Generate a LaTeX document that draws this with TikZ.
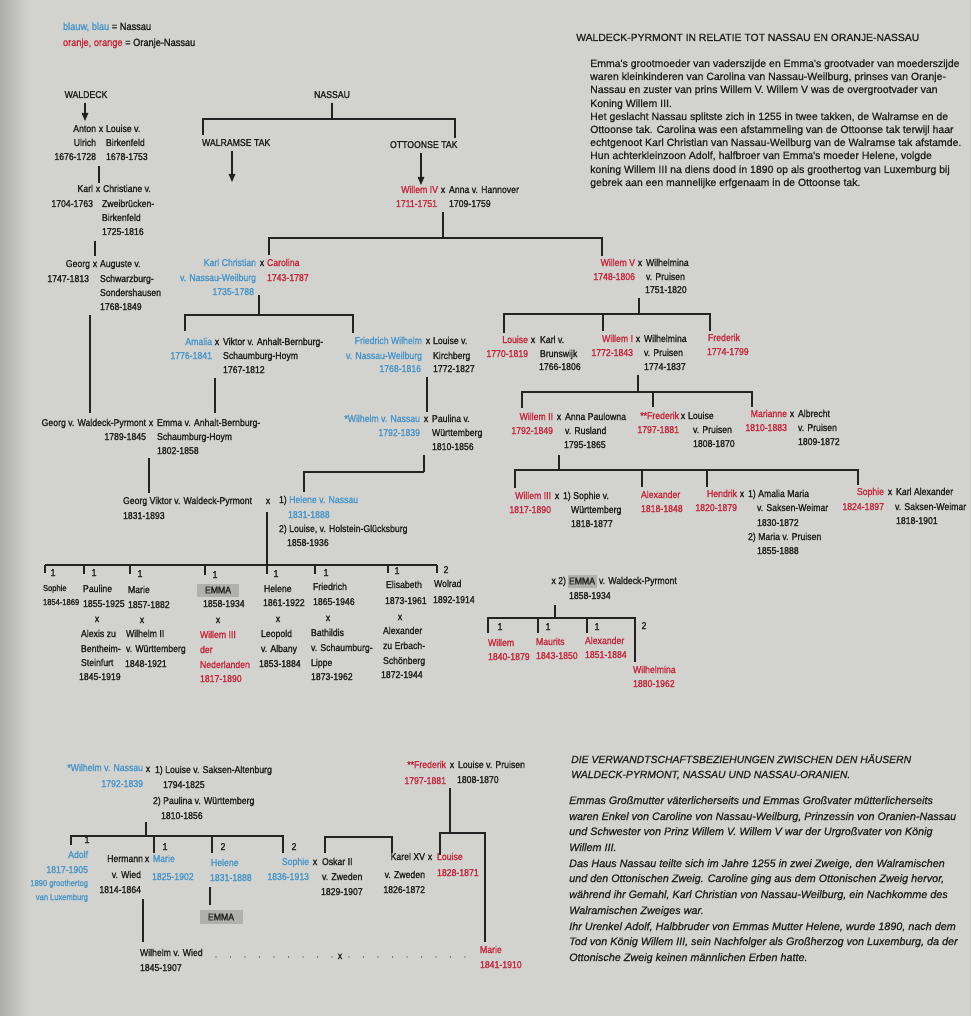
\documentclass[tikz,border=0pt]{standalone}
\usepackage{fontspec}
\setmainfont{Liberation Sans}
\newfontfamily\chartfont[FakeBold=1.6,FakeStretch=0.88]{Liberation Sans}
\newfontfamily\parafont[FakeBold=1.0]{Liberation Sans}
\newfontfamily\paraitfont[FakeBold=1.0]{Liberation Sans Italic}
\usetikzlibrary{arrows.meta}
\definecolor{nblue}{RGB}{75,150,200}
\definecolor{nred}{RGB}{198,42,62}
\definecolor{ink}{RGB}{35,35,35}
\definecolor{paper}{RGB}{210,211,207}
\definecolor{paperdark}{RGB}{172,172,168}
\definecolor{emmagray}{RGB}{176,176,174}
\newcommand\bl[1]{\textcolor{nblue}{#1}}
\newcommand\rd[1]{\textcolor{nred}{#1}}
\tikzset{
  lbl/.style={inner sep=0pt,outer sep=0pt,text=ink,font=\chartfont\fontsize{9.9}{11}\selectfont},
  sml/.style={lbl,font=\chartfont\fontsize{8.6}{10}\selectfont},
  leg/.style={lbl,font=\chartfont\fontsize{10.5}{12}\selectfont},
  ln/.style={draw=ink,line width=1.1pt},
  arr/.style={ln,-{Triangle[width=6.5pt,length=8pt]}},
  emmabox/.style={lbl,fill=emmagray},
  para/.style={inner sep=0pt,anchor=base west,text=ink,font=\parafont\fontsize{10.5}{12}\selectfont},
  parai/.style={para,font=\paraitfont\fontsize{10.8}{12}\selectfont},
  ttl/.style={para,font=\parafont\fontsize{10.4}{12}\selectfont},
  ttli/.style={para,font=\paraitfont\fontsize{10.4}{12}\selectfont},
}
\newcommand\nW[4]{\node[lbl,anchor=base west] (#1) at (#2,#3+3) {#4};}
\newcommand\nE[4]{\node[lbl,anchor=base east] (#1) at (#2,#3+3) {#4};}
\newcommand\nC[4]{\node[lbl,anchor=base] (#1) at (#2,#3+3) {#4};}
\newcommand\vl[4]{\coordinate (#1a) at (#2,#3);\coordinate (#1b) at (#2,#4);\draw[ln] (#1a)--(#1b);}
\newcommand\brk[6]{\coordinate (#1a) at (#2,#5);\coordinate (#1b) at (#2,#4);\coordinate (#1c) at (#3,#4);\coordinate (#1d) at (#3,#6);\draw[ln] (#1a)--(#1b)--(#1c)--(#1d);}
\begin{document}
\begin{tikzpicture}[x=1pt,y=-1pt]
\fill[paper] (0,0) rectangle (971,1016);
\shade[left color=paperdark,right color=paper] (0,0) rectangle (28,1016);
\useasboundingbox (0,0) rectangle (971,1016);

% legend
\node[leg,anchor=base west] (leg1) at (63,30) {\bl{blauw, blau} = Nassau};
\node[leg,anchor=base west] (leg2) at (63,46) {\rd{oranje, orange} = Oranje-Nassau};

% top right text
\node[ttl] (t0) at (576,41) {WALDECK-PYRMONT IN RELATIE TOT NASSAU EN ORANJE-NASSAU};
\node[para] (p1) at (590,67) {Emma's grootmoeder van vaderszijde en Emma's grootvader van moederszijde};
\node[para] (p2) at (590,80) {waren kleinkinderen van Carolina van Nassau-Weilburg, prinses van Oranje-};
\node[para] (p3) at (590,93) {Nassau en zuster van prins Willem V. Willem V was de overgrootvader van};
\node[para] (p4) at (590,107) {Koning Willem III.};
\node[para] (p5) at (590,120) {Het geslacht Nassau splitste zich in 1255 in twee takken, de Walramse en de};
\node[para] (p6) at (590,133) {Ottoonse tak. Carolina was een afstammeling van de Ottoonse tak terwijl haar};
\node[para] (p7) at (590,146) {echtgenoot Karl Christian van Nassau-Weilburg van de Walramse tak afstamde.};
\node[para] (p8) at (590,159) {Hun achterkleinzoon Adolf, halfbroer van Emma's moeder Helene, volgde};
\node[para] (p9) at (590,173) {koning Willem III na diens dood in 1890 op als groothertog van Luxemburg bij};
\node[para] (p10) at (590,186) {gebrek aan een mannelijke erfgenaam in de Ottoonse tak.};

% bottom right text
\node[ttli] (q0) at (571,763) {DIE VERWANDTSCHAFTSBEZIEHUNGEN ZWISCHEN DEN HÄUSERN};
\node[ttli] (q00) at (571,778) {WALDECK-PYRMONT, NASSAU UND NASSAU-ORANIEN.};
\node[parai] (q1) at (569,804) {Emmas Großmutter väterlicherseits und Emmas Großvater mütterlicherseits};
\node[parai] (q2) at (569,820) {waren Enkel von Caroline von Nassau-Weilburg, Prinzessin von Oranien-Nassau};
\node[parai] (q3) at (569,835) {und Schwester von Prinz Willem V. Willem V war der Urgroßvater von König};
\node[parai] (q4) at (569,851) {Willem III.};
\node[parai] (q5) at (569,867) {Das Haus Nassau teilte sich im Jahre 1255 in zwei Zweige, den Walramischen};
\node[parai] (q6) at (569,882) {und den Ottonischen Zweig. Caroline ging aus dem Ottonischen Zweig hervor,};
\node[parai] (q7) at (569,898) {während ihr Gemahl, Karl Christian von Nassau-Weilburg, ein Nachkomme des};
\node[parai] (q8) at (569,914) {Walramischen Zweiges war.};
\node[parai] (q9) at (569,930) {Ihr Urenkel Adolf, Halbbruder von Emmas Mutter Helene, wurde 1890, nach dem};
\node[parai] (q10) at (569,945) {Tod von König Willem III, sein Nachfolger als Großherzog von Luxemburg, da der};
\node[parai] (q11) at (569,961) {Ottonische Zweig keinen männlichen Erben hatte.};

% ---------- WALDECK column
\nC{waldeck}{86}{95}{WALDECK}
\nE{anton}{96}{129}{Anton} \nC{antonx}{101}{129}{x} \nW{louiseb}{106}{129}{Louise v.}
\nE{ulrich}{96}{143}{Ulrich} \nW{birka}{106}{143}{Birkenfeld}
\nE{antond}{96}{157}{1676-1728} \nW{louisebd}{106}{157}{1678-1753}
\nE{karl}{93}{189}{Karl} \nC{karlx}{98}{189}{x} \nW{christ}{103}{189}{Christiane v.}
\nE{karld}{93}{204}{1704-1763} \nW{zweib}{102}{204}{Zweibrücken-}
\nW{birkb}{102}{218}{Birkenfeld} \nW{christd}{102}{232}{1725-1816}
\nE{georg}{90}{264}{Georg} \nC{georgx}{95}{264}{x} \nW{aug}{100}{264}{Auguste v.}
\nE{georgd}{89}{279}{1747-1813} \nW{schw}{100}{279}{Schwarzburg-}
\nW{sond}{100}{293}{Sondershausen} \nW{augd}{100}{307}{1768-1849}
\nE{gwp}{146}{423}{Georg v. Waldeck-Pyrmont} \nC{gwpx}{151}{423}{x} \nW{emab}{157}{423}{Emma v. Anhalt-Bernburg-}
\nE{gwpd}{146}{437}{1789-1845} \nW{emab2}{157}{437}{Schaumburg-Hoym} \nW{emabd}{157}{451}{1802-1858}
\nW{gv}{123}{501}{Georg Viktor v. Waldeck-Pyrmont} \nC{gvx}{268}{501}{x}
\nW{hel1}{279}{500}{1) \bl{Helene v. Nassau}}
\nW{gvd}{123}{516}{1831-1893} \nW{hel1d}{288}{515}{\bl{1831-1888}}
\nW{lou2}{279}{529}{2) Louise, v. Holstein-Glücksburg} \nW{lou2d}{287}{543}{1858-1936}

% ---------- NASSAU
\nC{nassau}{332}{95}{NASSAU}
\nW{walr}{202}{143}{WALRAMSE TAK}
\nW{otto}{390}{145}{OTTOONSE TAK}
\nE{w4}{438}{190}{\rd{Willem IV}} \nC{w4x}{443}{190}{x} \nW{anna}{449}{190}{Anna v. Hannover}
\nE{w4d}{437}{204}{\rd{1711-1751}} \nW{annad}{449}{204}{1709-1759}
\nE{kc}{256}{263}{\bl{Karl Christian}} \nC{kcx}{262}{263}{x} \nW{carol}{267}{263}{\rd{Carolina}}
\nE{kc2}{256}{278}{\bl{v. Nassau-Weilburg}} \nW{carold}{267}{278}{\rd{1743-1787}}
\nE{kcd}{254}{292}{\bl{1735-1788}}
\nE{amalia}{212}{342}{\bl{Amalia}} \nC{amx}{217}{342}{x} \nW{viktor}{223}{342}{Viktor v. Anhalt-Bernburg-}
\nE{amd}{212}{356}{\bl{1776-1841}} \nW{vik2}{223}{356}{Schaumburg-Hoym} \nW{vikd}{223}{370}{1767-1812}
\nE{fw}{422}{341}{\bl{Friedrich Wilhelm}} \nC{fwx}{428}{341}{x} \nW{louk}{433}{341}{Louise v.}
\nE{fw2}{422}{356}{\bl{v. Nassau-Weilburg}} \nW{kirch}{433}{356}{Kirchberg}
\nE{fwd}{421}{369}{\bl{1768-1816}} \nW{loukd}{433}{369}{1772-1827}
\nE{wn}{420}{419}{\bl{*Wilhelm v. Nassau}} \nC{wnx}{426}{419}{x} \nW{paul}{432}{419}{Paulina v.}
\nE{wnd}{420}{433}{\bl{1792-1839}} \nW{wurt}{432}{433}{Württemberg} \nW{pauld}{432}{447}{1810-1856}

% ---------- ORANJE
\nE{w5}{635}{263}{\rd{Willem V}} \nC{w5x}{640}{263}{x} \nW{wilh}{646}{263}{Wilhelmina}
\nE{w5d}{635}{277}{\rd{1748-1806}} \nW{wilh2}{646}{277}{v. Pruisen} \nW{wilhd}{645}{290}{1751-1820}
\nE{lou}{528}{340}{\rd{Louise}} \nC{loux}{533}{340}{x} \nW{karlv}{540}{340}{Karl v.}
\nE{loud}{528}{354}{\rd{1770-1819}} \nW{brun}{540}{354}{Brunswijk} \nW{brund}{539}{367}{1766-1806}
\nE{w1}{633}{339}{\rd{Willem I}} \nC{w1x}{638}{339}{x} \nW{wilm}{644}{339}{Wilhelmina}
\nE{w1d}{633}{353}{\rd{1772-1843}} \nW{wilm2}{644}{353}{v. Pruisen} \nW{wilmd}{644}{367}{1774-1837}
\nW{fred}{708}{338}{\rd{Frederik}} \nW{fredd}{707}{352}{\rd{1774-1799}}
\nE{w2}{553}{417}{\rd{Willem II}} \nC{w2x}{559}{417}{x} \nW{annap}{565}{417}{Anna Paulowna}
\nE{w2d}{553}{431}{\rd{1792-1849}} \nW{rus}{565}{431}{v. Rusland} \nW{rusd}{564}{445}{1795-1865}
\nE{ff}{679}{416}{\rd{**Frederik}} \nC{ffx}{683}{416}{x} \nW{louf}{688}{416}{Louise}
\nE{ffd}{679}{430}{\rd{1797-1881}} \nW{louf2}{693}{430}{v. Pruisen} \nW{loufd}{693}{444}{1808-1870}
\nE{mar}{787}{414}{\rd{Marianne}} \nC{marx}{792}{414}{x} \nW{albr}{798}{414}{Albrecht}
\nE{mard}{787}{428}{\rd{1810-1883}} \nW{albr2}{798}{428}{v. Pruisen} \nW{albrd}{798}{442}{1809-1872}
\nE{w3}{551}{496}{\rd{Willem III}} \nC{w3x}{557}{496}{x} \nW{soph1}{563}{496}{1) Sophie v.}
\nE{w3d}{551}{510}{\rd{1817-1890}} \nW{wue}{571}{510}{Württemberg} \nW{wued}{571}{524}{1818-1877}
\nW{alex}{641}{495}{\rd{Alexander}} \nW{alexd}{641}{509}{\rd{1818-1848}}
\nE{hen}{737}{494}{\rd{Hendrik}} \nC{henx}{742}{494}{x} \nW{amm}{748}{494}{1) Amalia Maria}
\nE{hend}{737}{508}{\rd{1820-1879}} \nW{amm2}{757}{508}{v. Saksen-Weimar} \nW{ammd}{757}{523}{1830-1872}
\nW{maria}{748}{537}{2) Maria v. Pruisen} \nW{mariad}{757}{551}{1855-1888}
\nE{soph}{884}{492}{\rd{Sophie}} \nC{sophx}{890}{492}{x} \nW{ka}{896}{492}{Karl Alexander}
\nE{sophd}{884}{507}{\rd{1824-1897}} \nW{ka2}{895}{507}{v. Saksen-Weimar} \nW{kad}{896}{521}{1818-1901}
\nE{e2a}{566}{581}{x 2)}
\node[emmabox,minimum width=29pt,minimum height=13pt] (emmaB) at (582,581) {EMMA};
\nW{e2b}{599}{581}{v. Waldeck-Pyrmont} \nW{e2d}{569}{596}{1858-1934}
\nC{k1}{500}{627}{1} \nC{k2}{548}{627}{1} \nC{k3}{597}{627}{1} \nC{k4}{644}{626}{2}
\nW{wil}{488}{643}{\rd{Willem}} \nW{wild}{488}{657}{\rd{1840-1879}}
\nW{maur}{536}{642}{\rd{Maurits}} \nW{maurd}{536}{656}{\rd{1843-1850}}
\nW{alx}{585}{641}{\rd{Alexander}} \nW{alxd}{585}{655}{\rd{1851-1884}}
\nW{wilhm}{633}{670}{\rd{Wilhelmina}} \nW{wilhmd}{633}{684}{\rd{1880-1962}}

% ---------- children of Georg Viktor
\nC{c1}{53}{573}{1} \nC{c2}{94}{573}{1} \nC{c3}{140}{574}{1} \nC{c4}{215}{575}{1}
\nC{c5}{276}{574}{1} \nC{c6}{326}{573}{1} \nC{c7}{397}{571}{1} \nC{c8}{446}{570}{2}
\node[sml,anchor=base west] (sophie) at (43,591) {Sophie};
\node[sml,anchor=base west] (sophied) at (43,605) {1854-1869};
\nW{pauline}{83}{589}{Pauline} \nW{paulined}{83}{604}{1855-1925} \nC{paulx}{97}{619}{x}
\nW{alexis}{81}{634}{Alexis zu} \nW{alexis2}{81}{649}{Bentheim-} \nW{alexis3}{81}{663}{Steinfurt} \nW{alexisd}{79}{677}{1845-1919}
\nW{marie}{128}{590}{Marie} \nW{maried}{128}{605}{1857-1882} \nC{mariex}{142}{620}{x}
\nW{wilh2w}{126}{634}{Wilhelm II} \nW{wilh2w2}{126}{649}{v. Württemberg} \nW{wilh2wd}{125}{664}{1848-1921}
\node[emmabox,minimum width=42pt,minimum height=13pt] (emmaA) at (218,590) {EMMA};
\nW{emmad}{203}{604}{1858-1934} \nC{emmax}{218}{620}{x}
\nW{w3n}{200}{635}{\rd{Willem III}} \nW{w3n2}{200}{650}{\rd{der}} \nW{w3n3}{200}{665}{\rd{Nederlanden}} \nW{w3nd}{200}{679}{\rd{1817-1890}}
\nW{helene}{264}{589}{Helene} \nW{helened}{263}{603}{1861-1922} \nC{helenex}{278}{619}{x}
\nW{leo}{261}{634}{Leopold} \nW{leo2}{261}{649}{v. Albany} \nW{leod}{259}{664}{1853-1884}
\nW{friedr}{313}{587}{Friedrich} \nW{friedrd}{313}{602}{1865-1946} \nC{friedrx}{328}{618}{x}
\nW{bath}{311}{633}{Bathildis} \nW{bath2}{311}{648}{v. Schaumburg-} \nW{bath3}{311}{663}{Lippe} \nW{bathd}{311}{677}{1873-1962}
\nW{elis}{386}{585}{Elisabeth} \nW{elisd}{385}{601}{1873-1961} \nC{elisx}{400}{617}{x}
\nW{alexe}{383}{631}{Alexander} \nW{alexe2}{383}{646}{zu Erbach-} \nW{alexe3}{383}{661}{Schönberg} \nW{alexed}{381}{675}{1872-1944}
\nW{wolrad}{434}{584}{Wolrad} \nW{wolradd}{433}{600}{1892-1914}

% ---------- bottom chart
\nE{wnb}{143}{768}{\bl{*Wilhelm v. Nassau}} \nC{wnbx}{148}{769}{x} \nW{lsa}{155}{770}{1) Louise v. Saksen-Altenburg}
\nE{wnbd}{143}{784}{\bl{1792-1839}} \nW{lsad}{163}{785}{1794-1825}
\nW{pwb}{153}{801}{2) Paulina v. Württemberg} \nW{pwbd}{161}{816}{1810-1856}
\nC{b1}{87}{840}{1} \nC{b2}{165}{847}{1} \nC{b3}{223}{847}{2} \nC{b4}{294}{847}{2}
\nE{adolf}{88}{855}{\bl{Adolf}} \nE{adolfd}{88}{870}{\bl{1817-1905}}
\node[sml,anchor=base east] (adolf3) at (88,886) {\bl{1890 groothertog}};
\node[sml,anchor=base east] (adolf4) at (88,900) {\bl{van Luxemburg}};
\nE{herm}{143}{859}{Hermann} \nC{hermx}{147}{859}{x} \nW{marieb}{153}{859}{\bl{Marie}}
\nE{herm2}{141}{875}{v. Wied} \nE{hermd}{141}{890}{1814-1864} \nW{mariebd}{152}{877}{\bl{1825-1902}}
\nW{helb}{211}{863}{\bl{Helene}} \nW{helbd}{210}{878}{\bl{1831-1888}}
\node[emmabox,minimum width=43pt,minimum height=14pt] (emmaC) at (221,917) {EMMA};
\nE{sophb}{309}{862}{\bl{Sophie}} \nC{sophbx}{315}{862}{x} \nW{oskar}{322}{862}{Oskar II}
\nE{sophbd}{309}{877}{\bl{1836-1913}} \nW{oskar2}{322}{877}{v. Zweden} \nW{oskard}{321}{892}{1829-1907}
\nE{karel}{425}{857}{Karel XV} \nC{karelx}{430}{857}{x} \nW{loub}{437}{857}{\rd{Louise}}
\nE{karel2}{425}{875}{v. Zweden} \nE{kareld}{425}{890}{1826-1872} \nW{loubd}{437}{873}{\rd{1828-1871}}
\nE{ffb}{446}{765}{\rd{**Frederik}} \nC{ffbx}{452}{765}{x} \nW{lvp}{458}{765}{Louise v. Pruisen}
\nE{ffbd}{446}{781}{\rd{1797-1881}} \nW{lvpd}{457}{780}{1808-1870}
\nW{wwied}{140}{953}{Wilhelm v. Wied} \nW{wwiedd}{140}{968}{1845-1907}
\nC{dotx}{340}{956}{x}
\nW{marie2}{480}{950}{\rd{Marie}} \nW{marie2d}{480}{965}{\rd{1841-1910}}

% ---------- connectors
\coordinate (wa1) at (85,103); \coordinate (wa2) at (85,121); \draw[arr] (wa1)--(wa2);
\coordinate (wr1) at (232,151); \coordinate (wr2) at (232,182); \draw[arr] (wr1)--(wr2);
\coordinate (ot1) at (421,153); \coordinate (ot2) at (421,185); \draw[arr] (ot1)--(ot2);
\vl{l1}{99}{166}{183}
\vl{l2}{95}{241}{256}
\vl{l3}{90}{315}{413}
\vl{l4}{332}{103}{119}
\brk{r1}{203}{455}{119}{135}{138}
\vl{l5}{443}{212}{238}
\brk{r2}{269}{602}{238}{255}{256}
\vl{l6}{259}{295}{315}
\brk{r3}{185}{353}{315}{331}{333}
\vl{l7}{215}{378}{413}
\vl{l8}{427}{377}{412}
\vl{l9}{149}{458}{493}
\vl{l10}{424}{455}{472}
\coordinate (l10c) at (304,472); \coordinate (l10d) at (304,492);
\draw[ln] (l10b)--(l10c)--(l10d);
\vl{l11}{267}{512}{574}
\coordinate (hL) at (45,565); \coordinate (hR) at (437,565); \draw[ln] (hL)--(hR);
\vl{tk1}{45}{565}{573} \vl{tk2}{84}{565}{574} \vl{tk3}{130}{565}{574} \vl{tk4}{205}{565}{575}
\vl{tk5}{315}{565}{574} \vl{tk6}{388}{565}{573} \vl{tk7}{437}{565}{573}
\vl{l12}{639}{298}{314}
\brk{r4}{504}{710}{314}{333}{331}
\vl{l13}{603}{314}{331}
\vl{l14}{638}{375}{392}
\brk{r5}{522}{752}{392}{408}{407}
\vl{l15}{653}{392}{407}
\vl{l16}{559}{455}{470}
\brk{r6}{515}{858}{470}{488}{485}
\vl{l17}{642}{470}{487}
\vl{l18}{707}{470}{487}
\vl{l19}{555}{605}{618}
\brk{r7}{488}{635}{618}{633}{662}
\vl{l20}{538}{618}{633}
\vl{l21}{587}{618}{633}
\vl{l22}{146}{822}{836}
\brk{r8}{71}{283}{836}{845}{853}
\vl{l23}{154}{836}{853}
\vl{l24}{212}{836}{853}
\vl{l25}{210}{887}{905}
\brk{r9}{325}{392}{837}{853}{853}
\vl{l26}{450}{788}{833}
\brk{r10}{440}{485}{833}{855}{942}
\vl{l27}{143}{899}{942}
\coordinate (d1) at (216,957); \coordinate (d2) at (333,957);
\coordinate (d3) at (349,957); \coordinate (d4) at (472,957);
\draw[ink,line width=1.4pt,line cap=round,dash pattern=on 0pt off 14.5pt] (d1)--(d2);
\draw[ink,line width=1.4pt,line cap=round,dash pattern=on 0pt off 14.5pt] (d3)--(d4);
\end{tikzpicture}
\end{document}
